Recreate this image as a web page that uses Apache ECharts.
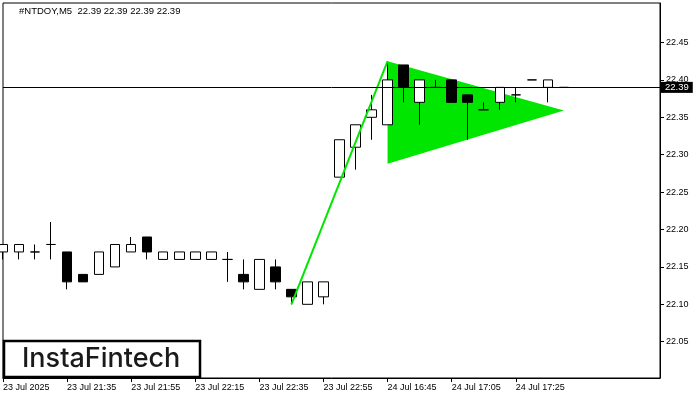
<!DOCTYPE html>
<html>
<head>
<meta charset="utf-8">
<script src="https://cdn.jsdelivr.net/npm/echarts@6/dist/echarts.min.js"></script>
<style>html,body{margin:0;padding:0;background:#fff;}#c{width:700px;height:400px;}</style>
</head>
<body>
<div id="c"></div>
<script>
// bar times (5-minute bars)
const categories = [
  '23 Jul 21:15','23 Jul 21:20','23 Jul 21:25','23 Jul 21:30','23 Jul 21:35','23 Jul 21:40','23 Jul 21:45','23 Jul 21:50',
  '23 Jul 21:55','23 Jul 22:00','23 Jul 22:05','23 Jul 22:10','23 Jul 22:15','23 Jul 22:20','23 Jul 22:25','23 Jul 22:30',
  '23 Jul 22:35','23 Jul 22:40','23 Jul 22:45','23 Jul 22:50','23 Jul 22:55','23 Jul 23:00','23 Jul 23:05','23 Jul 23:10',
  '24 Jul 16:45','24 Jul 16:50','24 Jul 16:55','24 Jul 17:00','24 Jul 17:05','24 Jul 17:10','24 Jul 17:15','24 Jul 17:20',
  '24 Jul 17:25','24 Jul 17:30','24 Jul 17:35','24 Jul 17:40','24 Jul 17:45','24 Jul 17:50','24 Jul 17:55','24 Jul 18:00',
  '24 Jul 18:05','24 Jul 18:10'
];
const xTickLabels = ['23 Jul 2025','23 Jul 21:35','23 Jul 21:55','23 Jul 22:15','23 Jul 22:35','23 Jul 22:55','24 Jul 16:45','24 Jul 17:05','24 Jul 17:25'];
const yTickValues = [22.05, 22.10, 22.15, 22.20, 22.25, 22.30, 22.35, 22.40, 22.45];
// [open, close, low, high]
const ohlc = [
  [22.17,22.18,22.16,22.18],[22.17,22.18,22.16,22.18],[22.17,22.17,22.16,22.18],[22.18,22.18,22.16,22.21],
  [22.17,22.13,22.12,22.17],[22.14,22.13,22.13,22.14],[22.14,22.17,22.14,22.17],[22.15,22.18,22.15,22.18],
  [22.17,22.18,22.17,22.19],[22.19,22.17,22.16,22.19],[22.16,22.17,22.16,22.17],[22.16,22.17,22.16,22.17],
  [22.16,22.17,22.16,22.17],[22.16,22.17,22.16,22.17],[22.16,22.16,22.13,22.17],[22.14,22.13,22.12,22.16],
  [22.12,22.16,22.12,22.16],[22.15,22.13,22.12,22.16],[22.12,22.11,22.10,22.12],[22.10,22.13,22.10,22.13],
  [22.11,22.13,22.10,22.13],[22.27,22.32,22.27,22.32],[22.31,22.34,22.28,22.34],[22.35,22.36,22.32,22.38],
  [22.34,22.40,22.34,22.425],[22.42,22.39,22.37,22.42],[22.37,22.40,22.34,22.40],[22.39,22.39,22.39,22.40],
  [22.40,22.37,22.37,22.40],[22.38,22.37,22.32,22.38],[22.36,22.36,22.36,22.37],[22.37,22.39,22.36,22.39],
  [22.38,22.38,22.37,22.39],[22.40,22.40,22.40,22.40],[22.39,22.40,22.37,22.40],[22.39,22.39,22.39,22.39]
];
const currentPrice = 22.39;
const titleText = '#NTDOY,M5  22.39 22.39 22.39 22.39';
// pennant triangle vertices (bar index, price)
const triX = [24, 24, 35];
const triY = [22.425, 22.288, 22.359];
// flagpole line
const poleX = [18, 24];
const poleY = [22.10, 22.425];

const GREEN = '#00e600';
const FONT = 'Liberation Sans';
const showTick = i => i % 4 === 0 && i / 4 < xTickLabels.length;

const chart = echarts.init(document.getElementById('c'), null, {renderer: 'canvas'});
chart.setOption({
  animation: false,
  backgroundColor: '#fff',
  grid: {left: 3, right: 40, top: 3, bottom: 22, show: true, borderColor: '#000', borderWidth: 1, containLabel: false},
  xAxis: {
    type: 'category',
    data: categories,
    boundaryGap: false,
    axisLine: {show: true, lineStyle: {color: '#000', width: 1}},
    axisTick: {show: true, interval: (i) => showTick(i), length: 4, lineStyle: {color: '#000'}},
    axisLabel: {
      show: true, interval: (i) => showTick(i), align: 'left', margin: 5,
      fontFamily: FONT, fontSize: 9, color: '#000',
      formatter: (v, i) => xTickLabels[i / 4] || ''
    },
    splitLine: {show: false}
  },
  yAxis: {
    type: 'value',
    position: 'right',
    min: 22.0015, max: 22.5028,
    axisLine: {show: true, lineStyle: {color: '#000', width: 1}},
    axisTick: {show: true, length: 4, customValues: yTickValues, lineStyle: {color: '#000'}},
    axisLabel: {show: true, customValues: yTickValues, margin: 6, fontFamily: FONT, fontSize: 9, color: '#000',
      formatter: v => v.toFixed(2)},
    splitLine: {show: false}
  },
  series: [
    {
      type: 'custom',
      z: 1,
      clip: false,
      data: [[triX[0], triY[0]]],
      renderItem: (params, api) => {
        const pts = triX.map((x, i) => api.coord([x, triY[i]]));
        return {type: 'polygon', shape: {points: pts}, style: {fill: GREEN}};
      }
    },
    {
      type: 'candlestick',
      z: 2,
      clip: false,
      barWidth: 10,
      data: ohlc,
      itemStyle: {color: '#fff', color0: '#000', borderColor: '#000', borderColor0: '#000', borderWidth: 1},
      markLine: {
        silent: true,
        symbol: ['none', 'none'],
        animation: false,
        lineStyle: {color: '#000', width: 1, type: 'solid'},
        label: {
          show: true, position: 'end', distance: 1,
          formatter: currentPrice.toFixed(2),
          backgroundColor: '#000', color: '#fff',
          fontFamily: FONT, fontSize: 9.5, padding: [1, 4, 0, 4]
        },
        emphasis: {disabled: true},
        data: [{yAxis: currentPrice}]
      }
    },
    {
      type: 'line',
      z: 3,
      symbol: 'none',
      data: poleX.map((x, i) => [x, poleY[i]]),
      lineStyle: {color: GREEN, width: 2},
      itemStyle: {color: GREEN}
    }
  ],
  graphic: [
    {type: 'text', left: 19, top: 6, z: 10,
      style: {text: titleText, fontFamily: FONT, fontSize: 9.5, fill: '#000'}},
    {type: 'rect', z: 20, shape: {x: 4, y: 341, width: 196, height: 36},
      style: {fill: '#fff', stroke: '#000', lineWidth: 2.5}},
    {type: 'text', z: 21, left: 22, top: 345,
      style: {text: 'InstaFintech', fontFamily: 'Inter', fontWeight: 500, fontSize: 27, fill: '#1a1a1a'}}
  ]
});
</script>
</body>
</html>
